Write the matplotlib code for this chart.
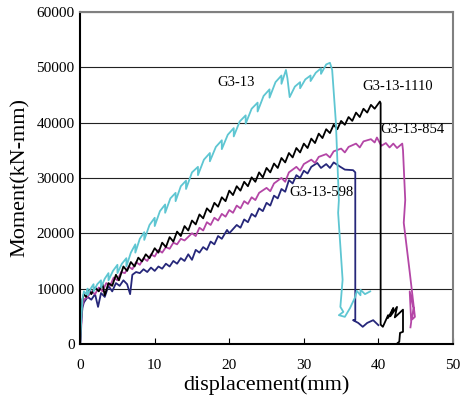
import numpy as np
import matplotlib
matplotlib.use("Agg")
import matplotlib.pyplot as plt

plt.rcParams['font.family'] = ['Liberation Serif', 'DejaVu Serif']

# (displacement mm, moment kN-mm)
g3_13 = [(0, 0), (0.1, 3000), (0.3, 8000), (0.5, 9500), (0.8, 9000), (1.0, 10000), (1.0, 8800),
         (1.5, 10200), (1.8, 10800), (1.8, 9500), (2.3, 10800), (2.8, 11500), (2.8, 10200),
         (3.3, 11800), (3.8, 12800), (3.8, 11500), (4.4, 13200), (5.0, 14300), (5.0, 12800),
         (5.6, 14500), (6.2, 15500), (6.2, 14000), (6.8, 16500), (7.4, 18000), (7.4, 16500),
         (8.0, 19000), (8.6, 20200), (8.6, 18800), (9.3, 21500), (10.0, 22800), (10.0, 21300),
         (10.7, 24000), (11.4, 25200), (11.4, 23700), (12.1, 26300), (12.8, 27300), (12.8, 25800),
         (13.5, 28500), (14.2, 29500), (14.2, 28000), (15.0, 31000), (15.8, 32000), (15.8, 30500),
         (16.6, 33300), (17.4, 34500), (17.4, 33000), (18.2, 35600), (19.0, 36800), (19.0, 35200),
         (19.8, 37800), (20.6, 39000), (20.6, 37500), (21.4, 40200), (22.2, 41300), (22.2, 39800),
         (23.0, 42500), (23.8, 43600), (23.8, 42000), (24.6, 44800), (25.4, 46000), (25.4, 44500),
         (26.2, 47300), (27.0, 48500), (27.0, 47000), (27.6, 49500), (27.8, 48000), (28.1, 44600),
         (28.8, 46500), (29.5, 47300), (29.5, 46200), (30.2, 47800), (30.9, 48500), (30.9, 47500),
         (31.6, 49000), (32.3, 49800), (32.3, 48800), (33.0, 50500), (33.5, 50800), (33.8, 49500),
         (34.3, 40000), (34.7, 26000), (34.6, 23700), (35.2, 11600), (34.9, 6700), (35.3, 5800),
         (34.7, 5200), (35.5, 4900), (36.2, 6500), (36.9, 8500), (37.1, 9600), (37.6, 8800),
         (37.6, 9800), (38.2, 9000), (38.9, 9500)]

g3_13_1110 = [(0, 0), (0.1, 4000), (0.3, 8000), (0.5, 9000), (0.8, 8500), (1.2, 9800), (1.5, 9000),
              (2.0, 10200), (2.5, 9500), (3.0, 10800), (3.3, 8800), (3.8, 11000), (4.3, 10500),
              (4.8, 12500), (5.2, 11500), (5.8, 14000), (6.3, 13200), (6.8, 14800), (7.3, 14000),
              (7.8, 15600), (8.3, 14900), (8.8, 16200), (9.3, 15500), (10, 17300), (10.5, 16500),
              (11, 18300), (11.5, 17500), (12, 19300), (12.5, 18500), (13, 20300), (13.5, 19500),
              (14, 21300), (14.5, 20500), (15, 22300), (15.5, 21600), (16, 23400), (16.5, 22700),
              (17, 24500), (17.5, 23800), (18, 25500), (18.5, 24800), (19, 26500), (19.5, 25800),
              (20, 27700), (20.5, 26900), (21, 28500), (21.5, 27700), (22, 29300), (22.5, 28500),
              (23, 30100), (23.5, 29300), (24, 31000), (24.5, 30100), (25, 31800), (25.5, 31000),
              (26, 32600), (26.5, 31800), (27, 33600), (27.5, 32800), (28, 34500), (28.5, 33700),
              (29, 35400), (29.5, 34600), (30, 36200), (30.5, 35400), (31, 37100), (31.5, 36300),
              (32, 38000), (32.5, 37200), (33, 38800), (33.5, 38100), (34, 39600), (34.5, 38800),
              (35, 40300), (35.5, 39600), (36, 41000), (36.5, 40300), (37, 41800), (37.5, 41000),
              (38, 42500), (38.5, 41800), (39, 43200), (39.5, 42500), (40.2, 43800), (40.3, 43500),
              (40.3, 3500), (40.6, 3100), (41.3, 5200), (41.3, 4700), (42.0, 6500), (41.6, 5000),
              (42.5, 6700), (42.2, 4800), (43.3, 6200), (43.3, 4900), (43.3, 2200), (42.9, 2000),
              (42.8, 400), (42.6, 200)]

g3_13_854 = [(0, 0), (0.1, 2000), (0.3, 7000), (0.5, 8000), (1, 8500), (1.5, 9500), (2, 9000),
             (2.5, 10200), (3, 9500), (3.5, 11000), (4, 10500), (4.5, 12000), (5, 11500),
             (5.5, 13000), (6, 12800), (6.5, 14000), (7, 13500), (7.5, 14800), (8, 14300),
             (8.5, 15500), (9, 15000), (9.5, 16200), (10, 15800), (10.5, 17000), (11, 16500),
             (11.5, 17500), (12, 17200), (12.5, 18300), (13, 18000), (13.5, 19000), (14, 18700),
             (15, 20000), (15.5, 19500), (16, 21000), (16.5, 20500), (17, 22000), (17.5, 21500),
             (18, 22800), (18.5, 22300), (19, 23500), (19.5, 23000), (20, 24200), (20.5, 23700),
             (21, 25000), (21.5, 24500), (22, 25800), (22.5, 25300), (23, 26500), (23.5, 26000),
             (24, 27300), (25, 28200), (25.5, 27600), (26, 29000), (27, 30000), (27.5, 29300),
             (28, 31000), (29, 32000), (29.5, 31300), (30, 32500), (31, 33300), (31.5, 32700),
             (32, 33800), (33, 34300), (33.5, 33700), (34, 34800), (35, 35300), (35.5, 34600),
             (36, 35600), (37, 36200), (37.5, 35500), (38, 36600), (39, 37000), (39.5, 36400),
             (39.8, 37300), (40.4, 35800), (41, 36300), (41.5, 35500), (42, 36200), (42.5, 35400),
             (43.2, 36200), (43.3, 35000), (43.6, 26000), (43.4, 21900), (44.2, 13000),
             (44.9, 4900), (44.5, 4400), (44.7, 6500), (44.2, 9500), (44.4, 4000), (44.3, 3000)]

g3_13_598 = [(0, 0), (0.1, 3000), (0.3, 6500), (0.5, 7500), (1, 8500), (1.5, 8000), (2, 9000),
             (2.4, 6700), (2.8, 9200), (3.3, 8500), (3.8, 10500), (4.3, 9500), (4.8, 11000),
             (5.3, 10500), (5.8, 11500), (6.3, 10800), (6.7, 9000), (7.0, 12500), (7.5, 13000),
             (8, 12800), (8.5, 13500), (9, 13000), (9.5, 13800), (10, 13200), (10.5, 14000),
             (11, 13600), (11.5, 14500), (12, 14000), (12.5, 15000), (13, 14500), (13.5, 15500),
             (14, 15000), (14.5, 16200), (15, 15200), (15.5, 17000), (16, 16500), (16.5, 17500),
             (17, 17000), (17.5, 18500), (18, 18000), (18.5, 19500), (19, 19000), (19.7, 20600),
             (20, 20000), (21, 21500), (21.5, 21000), (22, 22500), (22.5, 22000), (23, 23500),
             (23.5, 23000), (24, 24500), (24.5, 24000), (25, 25500), (25.5, 25000), (26, 26800),
             (26.5, 26300), (27, 28000), (27.5, 27500), (28, 29600), (28.5, 29000), (29, 30500),
             (29.5, 30000), (30, 31300), (30.5, 30800), (31, 32000), (31.8, 32700), (32.3, 31800),
             (33, 32500), (33.5, 31800), (34, 32800), (34.9, 32000), (35.5, 31500), (36.6, 31400),
             (36.9, 31000), (36.9, 4300), (36.6, 4300), (37.3, 3800), (37.9, 3100), (38.5, 3800),
             (39.3, 4300), (40.0, 3400)]

names = ['G3-13-598', 'G3-13-854', 'G3-13-1110', 'G3-13']
series = [g3_13_598, g3_13_854, g3_13_1110, g3_13]
colors = ['#26277a', '#b446a6', '#000000', '#5ec6d2']
label_pos = [(28.0, 27300), (40.2, 38700), (37.8, 46600), (18.4, 47300)]

fig = plt.figure(figsize=(4.66, 4.09), dpi=100)
ax = fig.add_axes([0.172, 0.159, 0.800, 0.812])

for data, c in zip(series, colors):
    arr = np.array(data)
    ax.plot(arr[:, 0], arr[:, 1], color=c, lw=1.3)

for name, (lx, ly) in zip(names, label_pos):
    ax.text(lx, ly, name, fontsize=10.5, va='center', ha='left')

ax.set_xlim(0, 50)
ax.set_ylim(0, 60000)
ax.set_xticks(range(0, 51, 10))
ax.set_yticks(range(0, 60001, 10000))
ax.yaxis.grid(True, color='#222222', lw=0.8)
ax.tick_params(axis='x', direction='in', length=4, pad=11, labelsize=11)
ax.tick_params(axis='y', length=0, pad=4, labelsize=11)

for s in ['left', 'bottom']:
    ax.spines[s].set_linewidth(1.5)
    ax.spines[s].set_color('black')
for s in ['top', 'right']:
    ax.spines[s].set_linewidth(1.5)
    ax.spines[s].set_color('#808080')

ax.set_xlabel('displacement(mm)', fontsize=16, labelpad=2)
ax.set_ylabel('Moment(kN-mm)', fontsize=16, labelpad=5)

fig.savefig('out.png', dpi=100)
